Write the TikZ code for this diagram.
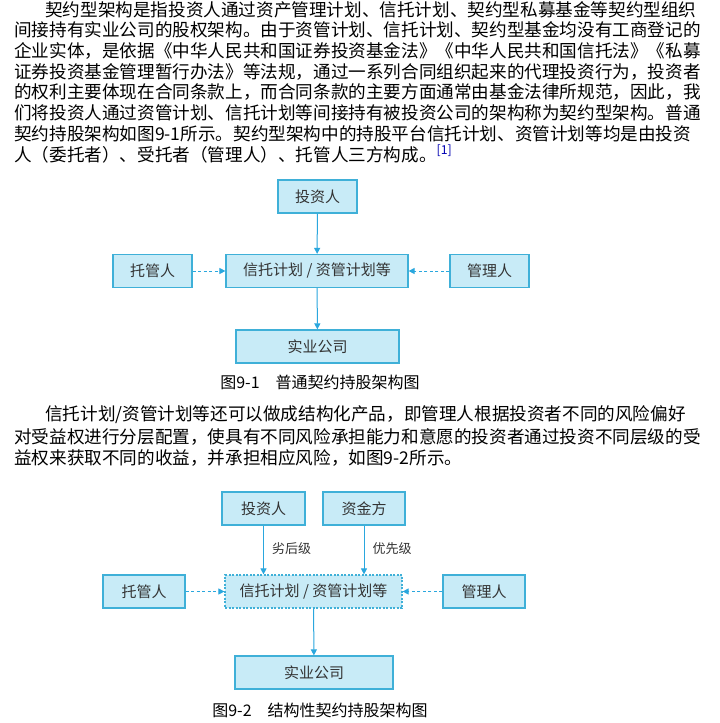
\documentclass[tikz,border=0pt]{standalone}
\usepackage{fontspec}
\setmainfont{Noto Sans CJK SC}
\usepackage{xcolor}
\usetikzlibrary{arrows.meta,positioning}
\definecolor{boxfill}{HTML}{C8EBF7}
\definecolor{boxline}{HTML}{3FB0D8}
\definecolor{arrcol}{HTML}{2AA7DE}

\begin{document}
\begin{tikzpicture}[
    x=1pt, y=-1pt,
    >={Triangle[length=6pt,width=6pt]},
    every node/.style={inner sep=0pt},
    txt/.style={anchor=west, font=\fontsize{17.6}{20}\selectfont},
    figcap/.style={font=\fontsize{16}{18}\selectfont},
    box/.style={draw=boxline, fill=boxfill, line width=1.2pt, minimum height=33pt,
                font=\fontsize{15}{17}\selectfont, text=black!80},
    arr/.style={->, draw=arrcol, line width=1pt},
    darr/.style={arr, dashed, dash pattern=on 3pt off 2.5pt},
    lvl/.style={font=\fontsize{13}{15}\selectfont, text=black!80, anchor=west},
  ]
    \useasboundingbox[fill=white] (0,0) rectangle (720,723);

    % --- Paragraph 1 ---
    \node[txt] (p1) at (45,10)  {契约型架构是指投资人通过资产管理计划、信托计划、契约型私募基金等契约型组织};
    \node[txt] (p2) at (14,30)  {间接持有实业公司的股权架构。由于资管计划、信托计划、契约型基金均没有工商登记的};
    \node[txt] (p3) at (14,51)  {企业实体，是依据《中华人民共和国证券投资基金法》《中华人民共和国信托法》《私募};
    \node[txt] (p4) at (14,72)  {证券投资基金管理暂行办法》等法规，通过一系列合同组织起来的代理投资行为，投资者};
    \node[txt] (p5) at (14,92)  {的权利主要体现在合同条款上，而合同条款的主要方面通常由基金法律所规范，因此，我};
    \node[txt] (p6) at (14,113) {们将投资人通过资管计划、信托计划等间接持有被投资公司的架构称为契约型架构。普通};
    \node[txt] (p7) at (14,134) {契约持股架构如图9-1所示。契约型架构中的持股平台信托计划、资管计划等均是由投资};
    \node[txt] (p8) at (14,154) {人（委托者）、受托者（管理人）、托管人三方构成。\textsuperscript{\textcolor{blue!70!black}{[1]}}};

    % --- Figure 9-1 ---
    \node[box, minimum width=79pt]  (inv1)  at (317.5,196.5) {投资人};
    \node[box, minimum width=182pt] (plan1) at (317,271)     {信托计划 / 资管计划等};
    \node[box, minimum width=79pt]  (cus1)  at (152.5,271)   {托管人};
    \node[box, minimum width=79pt]  (mgr1)  at (489.5,271)   {管理人};
    \node[box, minimum width=163pt] (co1)   at (317.5,346.5) {实业公司};
    \draw[arr]  (inv1)  -- (plan1);
    \draw[darr] (cus1)  -- (plan1);
    \draw[darr] (mgr1)  -- (plan1);
    \draw[arr]  (plan1) -- (co1);
    \node[figcap] (cap1) at (320,382) {图9-1\quad 普通契约持股架构图};

    % --- Paragraph 2 ---
    \node[txt] (q1) at (45,415) {信托计划/资管计划等还可以做成结构化产品，即管理人根据投资者不同的风险偏好};
    \node[txt] (q2) at (14,437) {对受益权进行分层配置，使具有不同风险承担能力和意愿的投资者通过投资不同层级的受};
    \node[txt] (q3) at (14,458) {益权来获取不同的收益，并承担相应风险，如图9-2所示。};

    % --- Figure 9-2 ---
    \node[box, minimum width=83pt]  (inv2)  at (263.5,508.5) {投资人};
    \node[box, minimum width=82pt]  (fund2) at (364,508.5)   {资金方};
    \node[box, minimum width=177pt, dashed, dash pattern=on 2pt off 1.5pt] (plan2) at (313.5,591.5) {信托计划 / 资管计划等};
    \node[box, minimum width=82pt]  (cus2)  at (144,591.5)   {托管人};
    \node[box, minimum width=82pt]  (mgr2)  at (484,591.5)   {管理人};
    \node[box, minimum width=158pt] (co2)   at (314,672.5)   {实业公司};
    \draw[arr]  (inv2)  -- (inv2 |- plan2.north) node[lvl, pos=0.48, right=8pt] (sub) {劣后级};
    \draw[arr]  (fund2) -- (fund2 |- plan2.north) node[lvl, pos=0.48, right=8pt] (sen) {优先级};
    \draw[darr] (cus2)  -- (plan2);
    \draw[darr] (mgr2)  -- (plan2);
    \draw[arr]  (plan2) -- (co2);
    \node[figcap] (cap2) at (320,710) {图9-2\quad 结构性契约持股架构图};
\end{tikzpicture}
\end{document}
